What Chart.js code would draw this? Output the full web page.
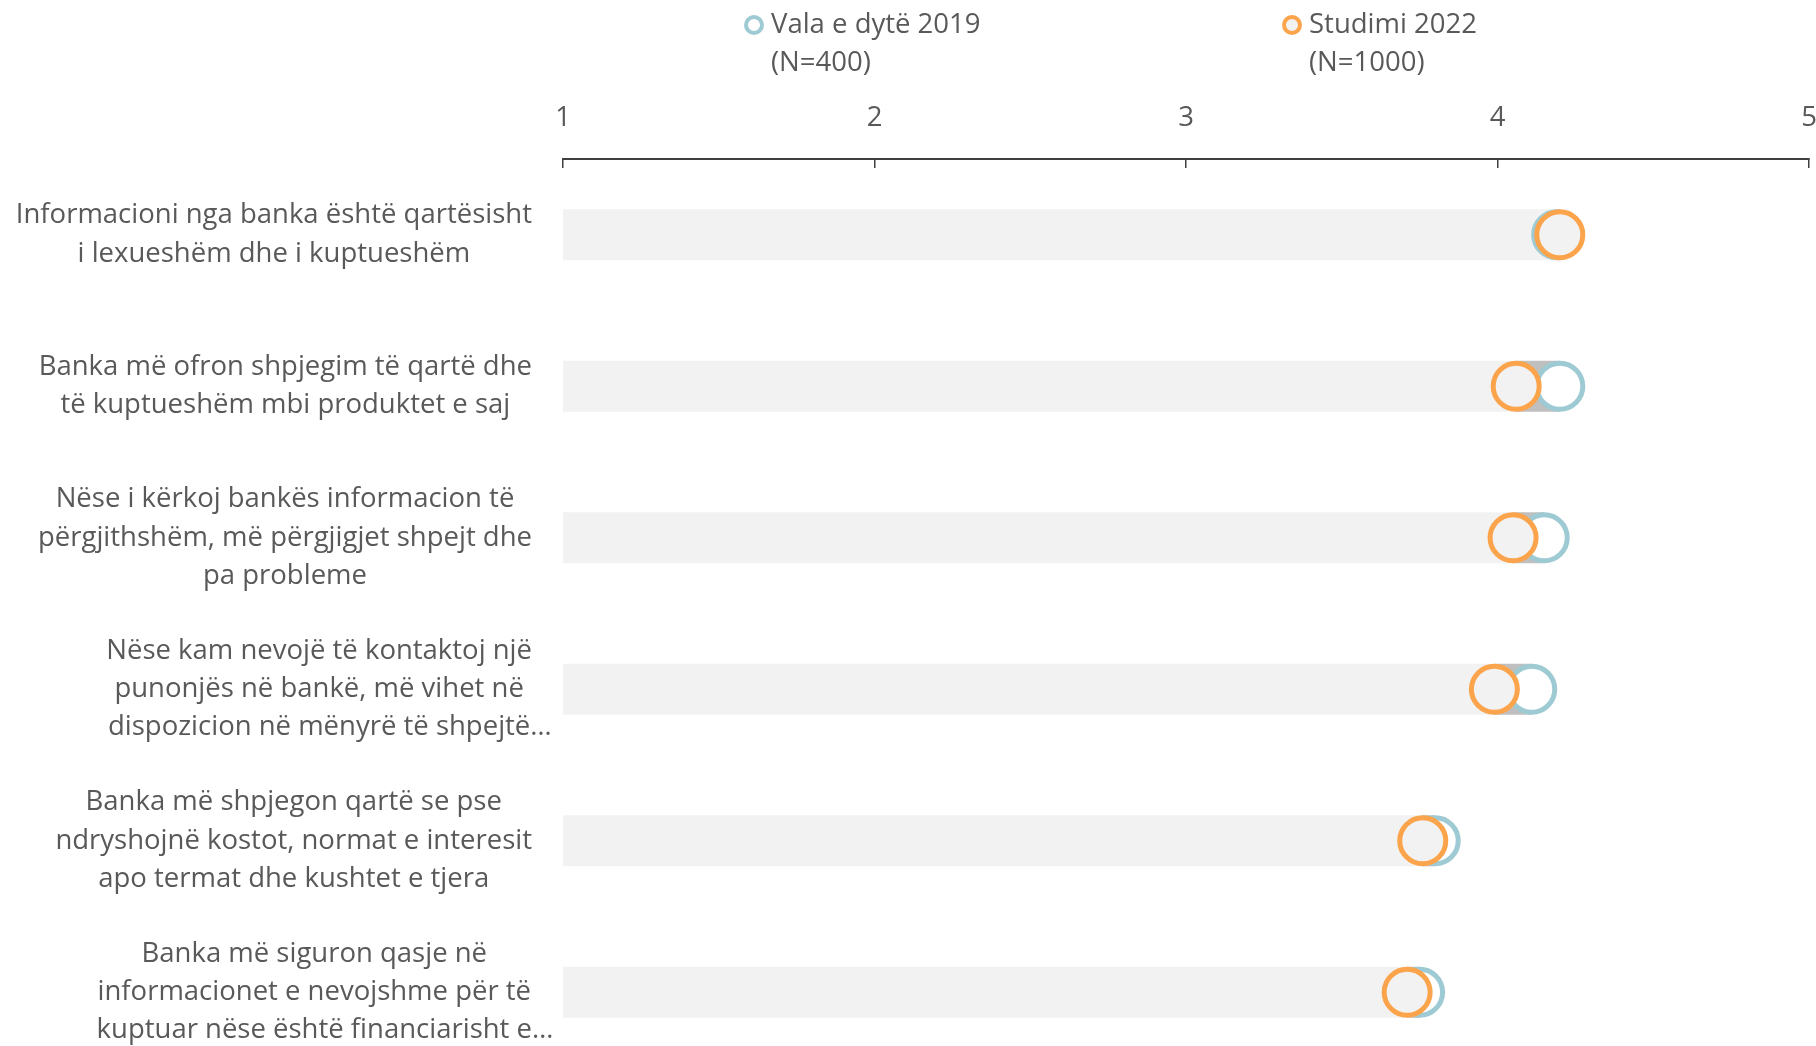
<!DOCTYPE html>
<html>
<head>
<meta charset="utf-8">
<script src="https://cdn.jsdelivr.net/npm/chart.js@4.4.0/dist/chart.umd.min.js"></script>
<style>
  html, body { margin: 0; padding: 0; background: #fff; overflow: hidden; }
  canvas { display: block; }
</style>
</head>
<body>
<canvas id="chartPerceptim" width="1816" height="1068"></canvas>
<script>
// ---------------- te dhenat ----------------
const pyetjet = [
    ['Informacioni nga banka është qartësisht', 'i lexueshëm dhe i kuptueshëm'],
    ['Banka më ofron shpjegim të qartë dhe', 'të kuptueshëm mbi produktet e saj'],
    ['Nëse i kërkoj bankës informacion të', 'përgjithshëm, më përgjigjet shpejt dhe', 'pa probleme'],
    ['Nëse kam nevojë të kontaktoj një', 'punonjës në bankë, më vihet në', 'dispozicion në mënyrë të shpejtë…'],
    ['Banka më shpjegon qartë se pse', 'ndryshojnë kostot, normat e interesit', 'apo termat dhe kushtet e tjera'],
    ['Banka më siguron qasje në', 'informacionet e nevojshme për të', 'kuptuar nëse është financiarisht e…']
];
const vala2019 = [4.19, 4.20, 4.15, 4.11, 3.80, 3.75];
const studimi2022 = [4.20, 4.06, 4.05, 3.99, 3.76, 3.71];
const legjenda = [['Vala e dytë 2019', '(N=400)'], ['Studimi 2022', '(N=1000)']];
const shkalla = [1, 2, 3, 4, 5];

const gri = '#595959';
const familja = 'Open Sans';
const madhesia = 27.5;
const fonti = madhesia + 'px "' + familja + '"';

// bari i lehte deri te vlera me e ulet, bari i erret per diferencen
const bazaBar = studimi2022.map((v, i) => [shkalla[0], Math.min(v, vala2019[i])]);
const diferencaBar = studimi2022.map((v, i) => [Math.min(v, vala2019[i]), Math.max(v, vala2019[i])]);

// ---------------- etiketat e pyetjeve ----------------
const etiketatPlugin = {
    id: 'etiketat',
    afterDraw(chart) {
        const ctx = chart.ctx;
        const y = chart.scales.y;
        ctx.save();
        ctx.font = fonti;
        ctx.fillStyle = gri;
        ctx.textBaseline = 'middle';
        ctx.textAlign = 'left';
        pyetjet.forEach((rreshtat, i) => {
            const yc = y.getPixelForTick(i);
            const gjeresi = rreshtat.map(r => ctx.measureText(r.replace(/…$/, '')).width);
            const qendra = 532 - Math.max(...gjeresi) / 2;
            rreshtat.forEach((r, j) => {
                const yy = yc + (j - (rreshtat.length - 1) / 2) * 38.3;
                ctx.fillText(r, qendra - gjeresi[j] / 2, yy);
            });
        });
        ctx.restore();
    }
};

// ---------------- legjenda ----------------
const legjendaPlugin = {
    id: 'legjenda',
    afterDraw(chart) {
        const ctx = chart.ctx;
        const pozicionet = [754, 1292];
        ctx.save();
        ctx.font = fonti;
        ctx.textBaseline = 'middle';
        [2, 3].forEach((d, k) => {
            const ds = chart.data.datasets[d];
            const x = pozicionet[k];
            ctx.beginPath();
            ctx.arc(x, 25, 8, 0, Math.PI * 2);
            ctx.fillStyle = ds.pointBackgroundColor;
            ctx.fill();
            ctx.lineWidth = 4;
            ctx.strokeStyle = ds.borderColor;
            ctx.stroke();
            ctx.fillStyle = gri;
            legjenda[k].forEach((t, j) => ctx.fillText(t, x + 17, 25 + j * 38));
        });
        ctx.restore();
    }
};

// ---------------- chart ----------------
const grafiku = document.getElementById('chartPerceptim');

new Chart(grafiku, {
    data: {
        labels: pyetjet.map(p => p.join(' ')),
        datasets: [
            {
                type: 'bar',
                data: bazaBar,
                backgroundColor: '#f2f2f2',
                grouped: false,
                categoryPercentage: 1,
                barPercentage: 0.337,
                order: 4
            },
            {
                type: 'bar',
                data: diferencaBar,
                backgroundColor: '#bfbfbf',
                grouped: false,
                categoryPercentage: 1,
                barPercentage: 0.337,
                order: 3
            },
            {
                type: 'line',
                label: legjenda[0].join(' '),
                data: vala2019,
                showLine: false,
                pointRadius: 23,
                pointBorderWidth: 5,
                borderColor: '#9ecad3',
                pointBorderColor: '#9ecad3',
                pointBackgroundColor: '#ffffff',
                clip: false,
                order: 2
            },
            {
                type: 'line',
                label: legjenda[1].join(' '),
                data: studimi2022,
                showLine: false,
                pointRadius: 23,
                pointBorderWidth: 5,
                borderColor: '#fba44c',
                pointBorderColor: '#fba44c',
                pointBackgroundColor: '#f2f2f2',
                clip: false,
                order: 1
            }
        ]
    },
    options: {
        indexAxis: 'y',
        responsive: false,
        animation: false,
        layout: {
            autoPadding: false,
            padding: { top: 0, right: 7, bottom: 0, left: 0 }
        },
        scales: {
            x: {
                position: 'top',
                min: shkalla[0],
                max: shkalla[shkalla.length - 1],
                ticks: {
                    stepSize: 1,
                    color: gri,
                    font: { family: familja, size: madhesia },
                    padding: 33
                },
                grid: {
                    drawOnChartArea: false,
                    tickLength: -9,
                    color: '#404040',
                    lineWidth: 1.5
                },
                border: {
                    color: '#404040',
                    width: 2
                },
                afterFit: s => {
                    s.height = 159;
                    s.paddingLeft = 0;
                    s.paddingRight = 0;
                }
            },
            y: {
                ticks: { display: false },
                grid: { display: false },
                border: { display: false },
                afterFit: s => { s.width = 563; }
            }
        },
        plugins: {
            legend: { display: false },
            tooltip: { enabled: false }
        }
    },
    plugins: [etiketatPlugin, legjendaPlugin]
});
</script>
</body>
</html>
